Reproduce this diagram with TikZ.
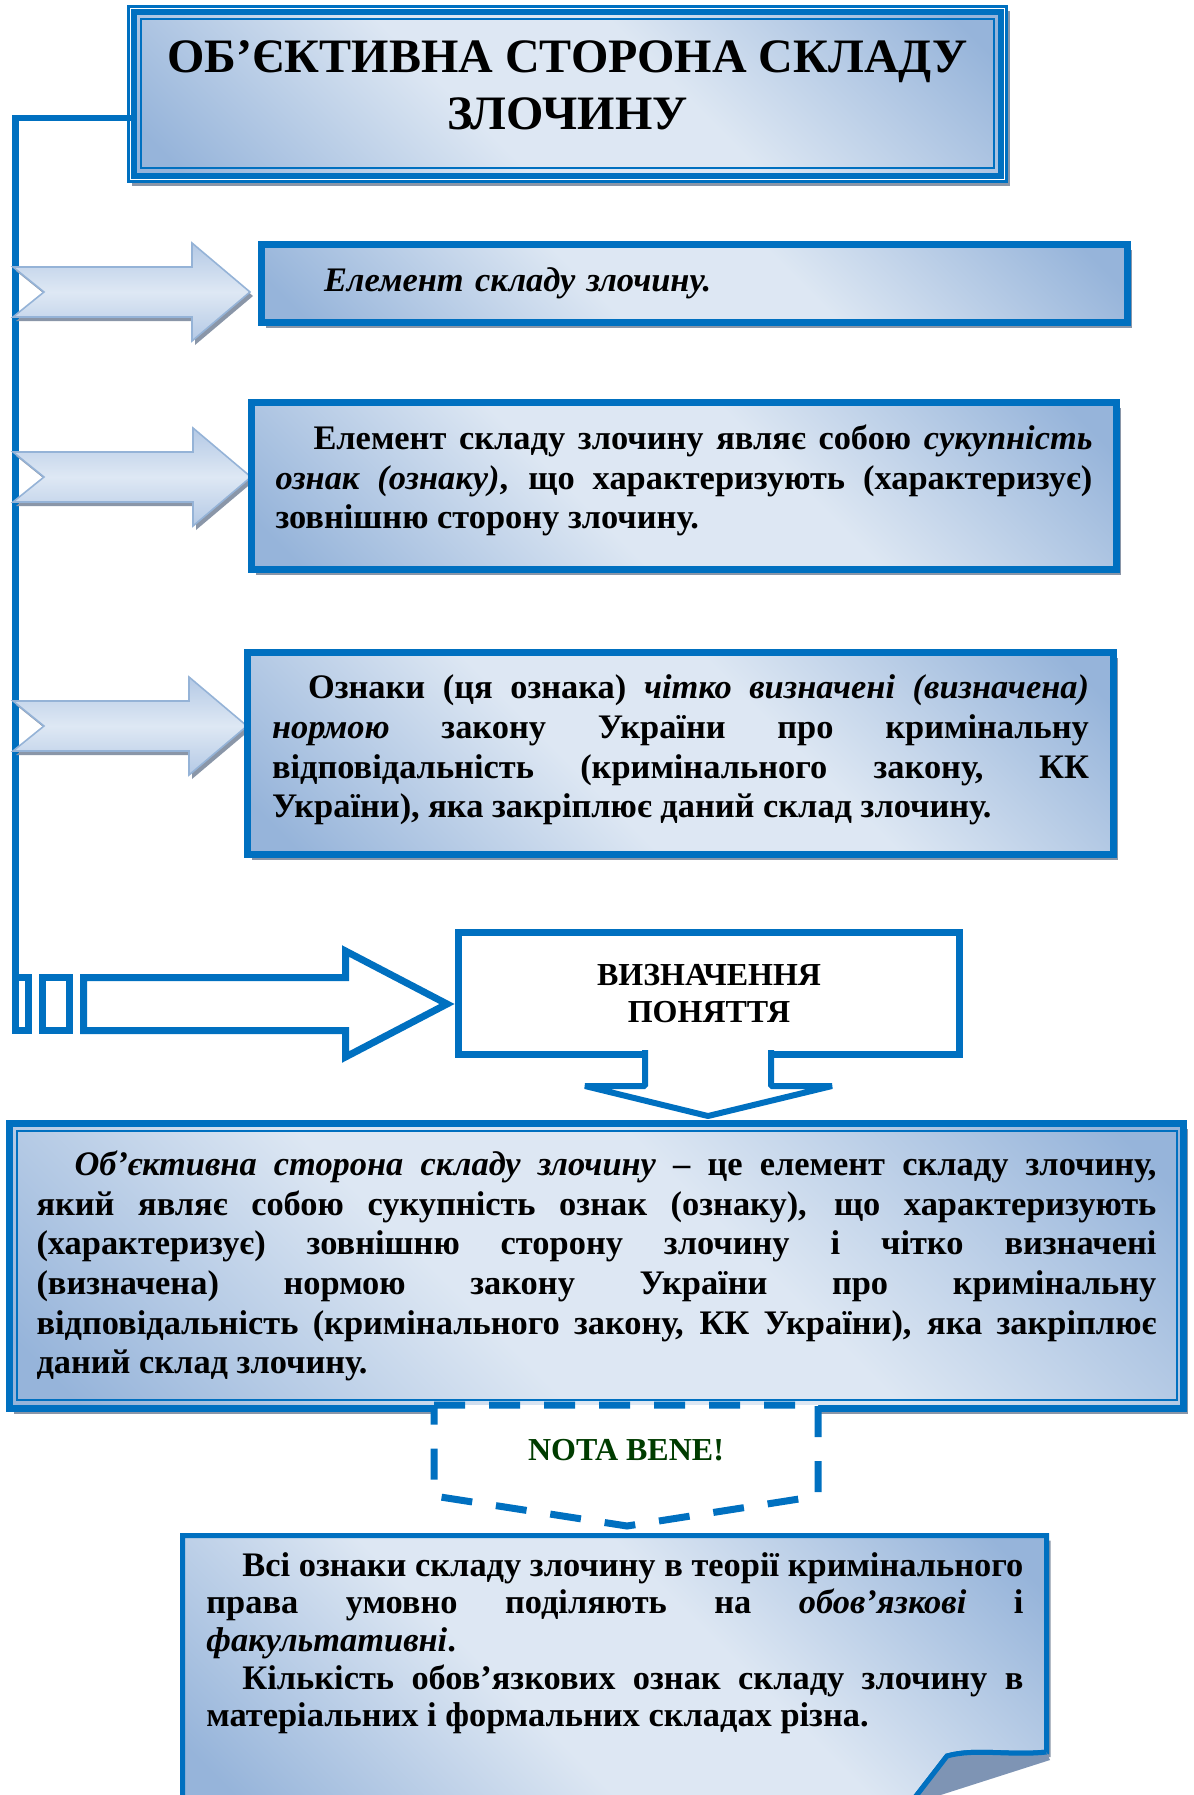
\documentclass[tikz,border=0pt]{standalone}
\usepackage{fontspec}
\setmainfont{Liberation Serif}
\usetikzlibrary{shadows}

\definecolor{lineblue}{RGB}{0,112,192}
\definecolor{fillight}{RGB}{221,231,243}
\definecolor{fildark}{RGB}{150,180,218}
\definecolor{shadowgray}{RGB}{138,150,168}
\definecolor{arrowedge}{RGB}{149,179,215}
\definecolor{arrowlight}{RGB}{222,232,244}
\definecolor{arrowdark}{RGB}{180,201,229}
\definecolor{notegreen}{RGB}{0,60,0}
\definecolor{flapgray}{RGB}{126,148,180}

\pgfdeclarehorizontalshading{boxfade}{100bp}{color(0bp)=(fildark); color(18bp)=(fildark); color(42bp)=(fillight); color(58bp)=(fillight); color(82bp)=(fildark); color(100bp)=(fildark)}

\newcommand\bodytext{\fontsize{17.2}{19.8}\selectfont\bfseries\hyphenpenalty=10000\tolerance=10000\relax}
\newcommand\notetext{\fontsize{17.2}{18.8}\selectfont\bfseries\hyphenpenalty=10000\tolerance=10000\relax}

\tikzset{
  boxfill/.style={draw=lineblue, line width=3.5pt, shading=boxfade, shading angle=45, outer sep=0pt},
  boxshadow/.style={drop shadow={fill=shadowgray, opacity=1, shadow xshift=2pt, shadow yshift=-2.5pt}},
  textbox/.style={boxfill, boxshadow, font=\bodytext, align=justify, inner sep=0pt},
  openbox/.style={draw=lineblue, line width=3.5pt, fill=white, outer sep=0pt},
  chevron/.style={draw=arrowedge, line width=0.8pt, top color=arrowdark, bottom color=arrowdark,
    middle color=arrowlight, drop shadow={fill=shadowgray, opacity=1, shadow xshift=1.5pt, shadow yshift=-2pt}},
  connector/.style={draw=lineblue, line width=3.2pt},
}

\begin{document}
\begin{tikzpicture}[x=0.5pt, y=-0.5pt]
  \useasboundingbox (0,0) rectangle (1194,1795);

  % title with its double frame
  \draw[draw=lineblue, line width=1.2pt, fill=white,
    drop shadow={fill=shadowgray, opacity=1, shadow xshift=1.5pt, shadow yshift=-2pt}]
    (128.5,6.5) rectangle (1006.5,181.5);
  \node[boxfill, line width=3pt, minimum width=433.5pt, minimum height=82pt, text depth=9pt,
    font=\fontsize{24}{28.5}\selectfont\bfseries, align=center] (title) at (567.5,94)
    {ОБ’ЄКТИВНА СТОРОНА СКЛАДУ\\ЗЛОЧИНУ};
  \draw[lineblue, line width=1pt] ([shift={(7,7)}]title.north west) rectangle ([shift={(-7,-8)}]title.south east);

  % striped tail of the big arrow
  \node[openbox, minimum width=6.5pt, minimum height=26.5pt] (tail1) at (22,1004) {};
  \node[openbox, minimum width=13.5pt, minimum height=26.5pt] (tail2) at (56,1004) {};

  \draw[connector] ([yshift=-12pt]title.west) -| (tail1.north west);

  % three light arrows
  \foreach \cy/\tx in {292/250, 477/251, 726/247}
    \draw[chevron] (13,{\cy-25}) -- ({\tx-58},{\cy-25}) -- ({\tx-58},{\cy-49}) -- (\tx,\cy)
      -- ({\tx-58},{\cy+49}) -- ({\tx-58},{\cy+25}) -- (13,{\cy+25}) -- (44,\cy) -- cycle;

  \node[textbox, minimum width=433pt, minimum height=39pt, text width=370.5pt, align=left] (elem) at (694.5,283.5)
    {\textit{Елемент складу злочину.}};

  \node[textbox, minimum width=432.5pt, minimum height=83.5pt, text width=408.5pt, text height=7pt] (sukup) at (684,486)
    {\hspace*{19pt}Елемент складу злочину являє собою \textit{сукупність}\linebreak
     \textit{ознак (ознаку)}, що характеризують (характеризує)\linebreak
     зовнішню сторону злочину.};

  \node[textbox, minimum width=433pt, minimum height=101pt, text width=408.5pt, text height=8.5pt] (norma) at (680.5,753.5)
    {\hspace*{18pt}Ознаки (ця ознака) \textit{чітко визначені (визначена)}\linebreak
     \textit{нормою} закону України про кримінальну\linebreak
     відповідальність (кримінального закону, КК\linebreak
     України), яка закріплює даний склад злочину.};

  % big open arrow and the definition box
  \draw[openbox] (83.5,977.5) -- (345.5,977.5) -- (345.5,951) -- (447,1004) -- (345.5,1057)
    -- (345.5,1030.5) -- (83.5,1030.5) -- cycle;
  \node[openbox, minimum width=250.5pt, minimum height=61pt,
    font=\fontsize{16}{18.5}\selectfont\bfseries, align=center] (defn) at (709,993.5) {ВИЗНАЧЕННЯ\\ПОНЯТТЯ};
  \draw[openbox, line width=3pt, line join=bevel] (645,1050) -- (645,1086) -- (585,1086) -- (708,1116)
    -- (832,1086) -- (771,1086) -- (771,1050);

  \node[textbox, minimum width=587pt, minimum height=142.5pt, text width=560pt] (full) at (596.5,1266)
    {\hspace*{19pt}\textit{Об’єктивна сторона складу злочину} – це елемент складу злочину,\linebreak
     який являє собою сукупність ознак (ознаку), що характеризують\linebreak
     (характеризує) зовнішню сторону злочину і чітко визначені\linebreak
     (визначена) нормою закону України про кримінальну\linebreak
     відповідальність (кримінального закону, КК України), яка закріплює\linebreak
     даний склад злочину.};
  \draw[lineblue, line width=1pt] ([shift={(7.5,7.5)}]full.north west) rectangle ([shift={(-6.5,-8.5)}]full.south east);

  % nota bene
  \draw[draw=lineblue, line width=3.5pt, fill=white, dash pattern=on 15.5pt off 12pt]
    (434,1405) -- (818,1405) -- (818,1496) -- (627,1526) -- (434,1496) -- cycle;
  \node[font=\fontsize{16}{19}\selectfont\bfseries, text=notegreen] (nota) at (626,1450) {NOTA BENE!};

  % note sheet with a curled corner
  \path[boxfill, line width=2.5pt, boxshadow] (182.5,1800) -- (182.5,1535.5) -- (1046.5,1535.5) -- (1046.5,1752)
    .. controls (1010,1756) and (975,1748) .. (947,1756) -- (913,1800) -- cycle;
  \fill[flapgray] (947,1756) .. controls (975,1748) and (1010,1756) .. (1046.5,1752)
    -- (1050,1760) -- (925,1800) -- (913,1800) -- cycle;
  \draw[lineblue, line width=2.5pt] (913,1800) -- (947,1756) .. controls (975,1748) and (1010,1756) .. (1046.5,1752);
  \node[font=\notetext, align=justify, text width=408.5pt, inner sep=0pt, anchor=north west] (notetext) at (206,1552)
    {\hspace*{18pt}Всі ознаки складу злочину в теорії кримінального\linebreak
     права умовно поділяють на \textit{обов’язкові} і\linebreak
     \textit{факультативні}.\par
     \hspace*{18pt}Кількість обов’язкових ознак складу злочину в\linebreak
     матеріальних і формальних складах різна.};
\end{tikzpicture}
\end{document}
